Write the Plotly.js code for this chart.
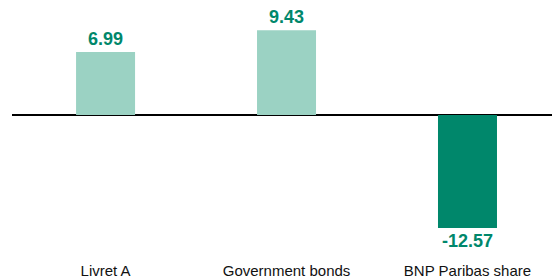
<!DOCTYPE html>
<html>
<head>
<meta charset="utf-8">
<script src="https://cdn.plot.ly/plotly-3.0.1.min.js"></script>
<style>html,body{margin:0;padding:0;background:#fff;}#chart{width:552px;height:280px;}</style>
</head>
<body>
<div id="chart"></div>
<script>
const categories = ["Livret A", "Government bonds", "BNP Paribas share"];
const values = [6.99, 9.43, -12.57];
const barColors = ["#9bd2c3", "#9bd2c3", "#00876b"];

const trace = {
  type: "bar",
  x: categories,
  y: values,
  marker: {color: barColors, line: {width: 0}},
  text: values.map(v => v.toFixed(2)),
  texttemplate: "%{text}",
  textposition: "outside",
  constraintext: "none",
  cliponaxis: false,
  textfont: {family: "Liberation Sans", size: 18, color: "#00876b", weight: "bold"},
  hoverinfo: "none"
};

const layout = {
  width: 552, height: 280,
  margin: {l: 12, r: 0, t: 0, b: 40},
  paper_bgcolor: "#fff", plot_bgcolor: "#fff",
  showlegend: false,
  bargap: 0.674,
  xaxis: {
    type: "category",
    range: [-0.517, 2.467],
    showgrid: false, showline: false, zeroline: false,
    ticks: "", ticklen: 0,
    ticklabelstandoff: 20,
    tickfont: {family: "Liberation Sans", size: 15, color: "#111"},
    fixedrange: true
  },
  yaxis: {
    range: [-13.89, 12.78],
    showgrid: false, showline: false, showticklabels: false, ticks: "",
    zeroline: true, zerolinecolor: "#000", zerolinewidth: 1.3,
    fixedrange: true
  }
};

Plotly.newPlot("chart", [trace], layout, {displayModeBar: false, staticPlot: true});
</script>
</body>
</html>
